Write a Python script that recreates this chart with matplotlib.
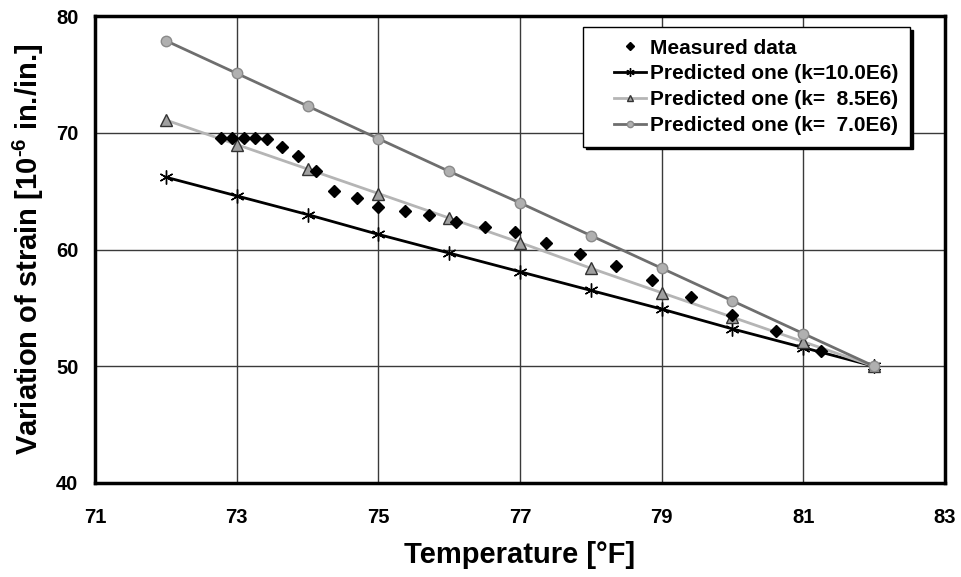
import matplotlib.pyplot as plt
from matplotlib.lines import Line2D
from matplotlib.legend_handler import HandlerLine2D

plt.rcParams["font.family"] = ["Liberation Sans", "DejaVu Sans"]
plt.rcParams["font.weight"] = "bold"
plt.rcParams["mathtext.fontset"] = "custom"
plt.rcParams["mathtext.rm"] = "Liberation Sans:bold"
plt.rcParams["mathtext.bf"] = "Liberation Sans:bold"
plt.rcParams["mathtext.default"] = "bf"

meas_temp = [72.78, 72.94, 73.10, 73.26, 73.43, 73.64, 73.87, 74.12, 74.38,
             74.70, 75.00, 75.37, 75.72, 76.10, 76.50, 76.93, 77.37, 77.84,
             78.35, 78.87, 79.42, 80.00, 80.61, 81.25]
meas_strain = [69.6, 69.6, 69.57, 69.57, 69.49, 68.8, 68.03, 66.75, 65.04,
               64.44, 63.68, 63.33, 62.99, 62.39, 61.97, 61.54, 60.6, 59.66,
               58.55, 57.35, 55.9, 54.36, 52.99, 51.28]

# Predicted curves
pred_temp = [72, 73, 74, 75, 76, 77, 78, 79, 80, 81, 82]
pred_k100 = [66.2, 64.6, 63.0, 61.3, 59.7, 58.1, 56.5, 54.9, 53.2, 51.6, 50.0]
pred_k85 = [71.1, 69.0, 66.9, 64.8, 62.7, 60.6, 58.4, 56.3, 54.2, 52.1, 50.0]
pred_k70 = [77.9, 75.1, 72.3, 69.5, 66.7, 64.0, 61.2, 58.4, 55.6, 52.8, 50.0]

fig = plt.figure(figsize=(9.62, 5.77), dpi=100)
ax = fig.add_axes([0.0988, 0.163, 0.8835, 0.809])

ax.plot(meas_temp, meas_strain, linestyle="none", marker="D", ms=6.5,
        color="black", label="Measured data", zorder=5)
ax.plot(pred_temp, pred_k100, color="black", lw=2, marker=(6, 2, 0), ms=10,
        mew=1, label="Predicted one (k=10.0E6)", zorder=3)
ax.plot(pred_temp, pred_k85, color="#b5b5b5", lw=2, marker="^", ms=8,
        mfc="#a0a0a0", mec="#333333", mew=1,
        label="Predicted one (k=  8.5E6)", zorder=3)
ax.plot(pred_temp, pred_k70, color="#6e6e6e", lw=2, marker="o", ms=7.5,
        mfc="#b0b0b0", mec="#8a8a8a", mew=1,
        label="Predicted one (k=  7.0E6)", zorder=3)

ax.set_xlim(71, 83)
ax.set_ylim(40, 80)
ax.set_xticks([71, 73, 75, 77, 79, 81, 83])
ax.set_yticks([40, 50, 60, 70, 80])
ax.grid(True, color="#3a3a3a", lw=1)
ax.set_axisbelow(True)
ax.tick_params(length=0, labelsize=14.5, pad=12)
ax.tick_params(axis="x", pad=18)
for lbl in ax.get_xticklabels() + ax.get_yticklabels():
    lbl.set_fontweight("bold")
for s in ax.spines.values():
    s.set_linewidth(2.5)

ax.set_xlabel("Temperature [°F]", fontsize=21, fontweight="bold", labelpad=10)
ax.set_ylabel(r"Variation of strain [10$^{\text{-6}}$ in./in.]", fontsize=21,
              fontweight="bold", labelpad=7)

leg = ax.legend(loc="upper right", bbox_to_anchor=(0.9588, 0.9765),
                prop={"size": 15, "weight": "bold"}, fancybox=False,
                framealpha=1, edgecolor="black", handlelength=2.45,
                borderpad=0.55, labelspacing=0.33, handletextpad=0.2,
                borderaxespad=0,
                handler_map={Line2D: HandlerLine2D(xpad=0.9)},
                shadow={"color": "black", "alpha": 1})
leg.get_frame().set_linewidth(1)
for h in leg.legend_handles:
    h.set_markersize(h.get_markersize() * 0.6)

fig.savefig("out.png", dpi=100)
